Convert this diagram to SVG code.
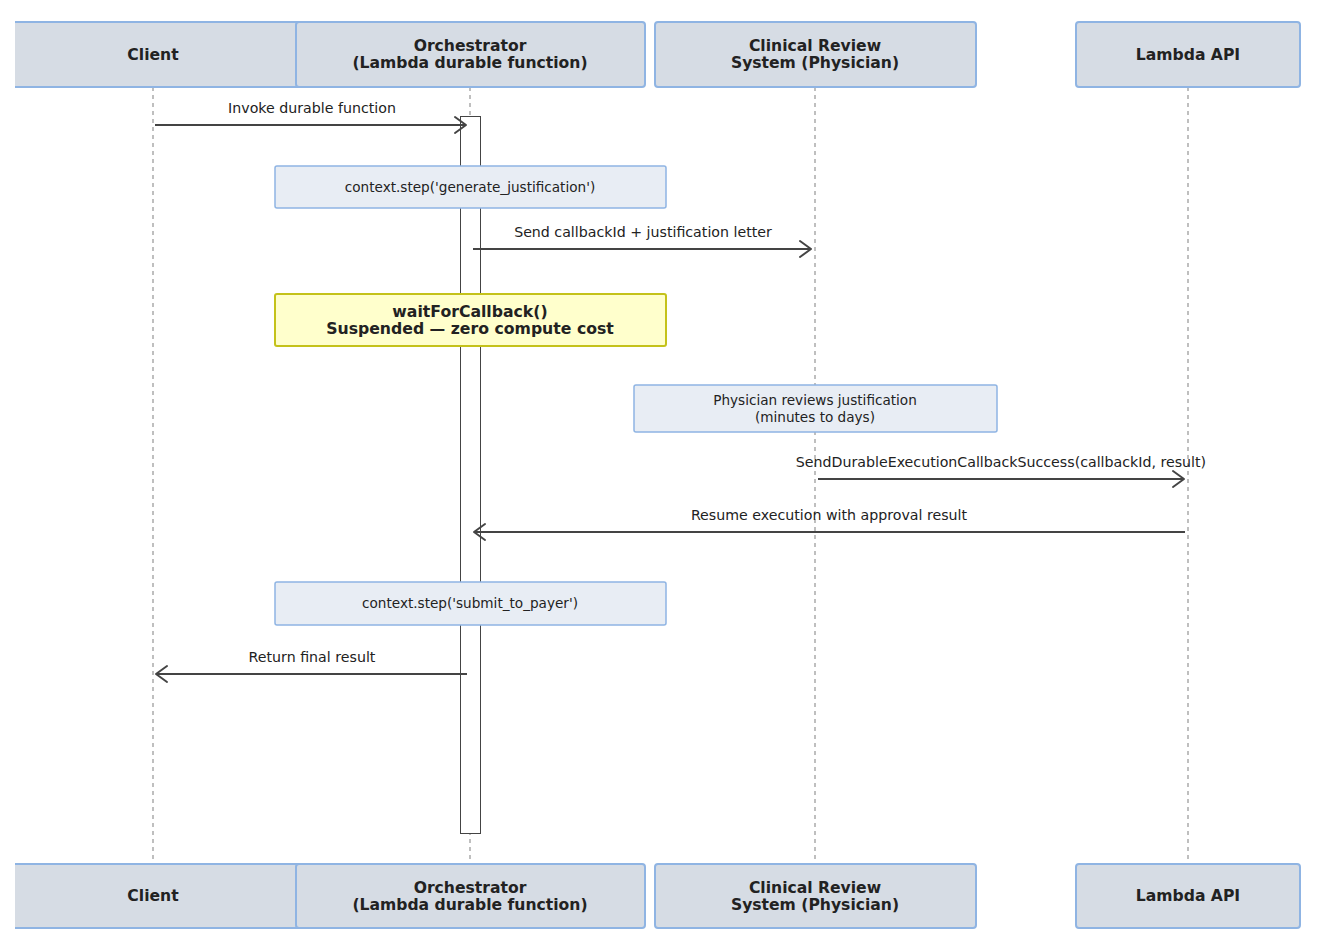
<svg xmlns="http://www.w3.org/2000/svg" width="1323" height="950" viewBox="0 0 1323 950">
<style>
text{font-family:"DejaVu Sans","Liberation Sans",sans-serif;fill:#222;text-anchor:middle}
.actor{fill:#d6dce4;stroke:#8fb4e3;stroke-width:2}
.atext{font-size:15.6px;font-weight:bold}
.life{stroke:#aaa;stroke-width:1.5;stroke-dasharray:4,4;fill:none}
.act{fill:#fff;stroke:#444;stroke-width:1}
.note{fill:#e8edf4;stroke:#8fb4e3;stroke-width:1.5}
.ynote{fill:#ffffcc;stroke:#c4c21a;stroke-width:2}
.ntext{font-size:13.6px}
.ytext{font-size:15.7px;font-weight:bold}
.msg{stroke:#444;stroke-width:2;fill:none}
.head{stroke:#444;stroke-width:2;fill:none;stroke-linecap:round;stroke-linejoin:round}
.mtext{font-size:14.2px}
</style>
<defs>
<clipPath id="clip"><rect x="15" y="0" width="1308" height="950"/></clipPath>
</defs>
<rect width="1323" height="950" fill="#fff"/>
<g id="lifelines">
<line class="life" x1="153" y1="87" x2="153" y2="864"/>
<line class="life" x1="470" y1="87" x2="470" y2="864"/>
<line class="life" x1="815" y1="87" x2="815" y2="864"/>
<line class="life" x1="1188" y1="87" x2="1188" y2="864"/>
</g>
<g id="activation"><rect class="act" x="460.5" y="116.5" width="20" height="717"/></g>
<g id="actor-client-top" clip-path="url(#clip)">
<rect class="actor" x="3" y="22" width="299" height="65" rx="3"/>
<text class="atext" x="153" y="60">Client</text>
</g>
<g id="actor-orch-top">
<rect class="actor" x="296" y="22" width="349" height="65" rx="3"/>
<text class="atext" x="470" y="51">Orchestrator</text>
<text class="atext" x="470" y="68">(Lambda durable function)</text>
</g>
<g id="actor-crs-top">
<rect class="actor" x="655" y="22" width="321" height="65" rx="3"/>
<text class="atext" x="815" y="51">Clinical Review</text>
<text class="atext" x="815" y="68">System (Physician)</text>
</g>
<g id="actor-api-top">
<rect class="actor" x="1076" y="22" width="224" height="65" rx="3"/>
<text class="atext" x="1188" y="60">Lambda API</text>
</g>
<g id="actor-client-bottom" clip-path="url(#clip)">
<rect class="actor" x="3" y="864" width="299" height="64" rx="3"/>
<text class="atext" x="153" y="901">Client</text>
</g>
<g id="actor-orch-bottom">
<rect class="actor" x="296" y="864" width="349" height="64" rx="3"/>
<text class="atext" x="470" y="893">Orchestrator</text>
<text class="atext" x="470" y="910">(Lambda durable function)</text>
</g>
<g id="actor-crs-bottom">
<rect class="actor" x="655" y="864" width="321" height="64" rx="3"/>
<text class="atext" x="815" y="893">Clinical Review</text>
<text class="atext" x="815" y="910">System (Physician)</text>
</g>
<g id="actor-api-bottom">
<rect class="actor" x="1076" y="864" width="224" height="64" rx="3"/>
<text class="atext" x="1188" y="901">Lambda API</text>
</g>
<g id="note-generate">
<rect class="note" x="275" y="166" width="391" height="42" rx="2"/>
<text class="ntext" x="470" y="192">context.step('generate_justification')</text>
</g>
<g id="note-wait">
<rect class="ynote" x="275" y="294" width="391" height="52" rx="2"/>
<text class="ytext" x="470" y="317">waitForCallback()</text>
<text class="ytext" x="470" y="334">Suspended — zero compute cost</text>
</g>
<g id="note-physician">
<rect class="note" x="634" y="385" width="363" height="47" rx="2"/>
<text class="ntext" x="815" y="405">Physician reviews justification</text>
<text class="ntext" x="815" y="422">(minutes to days)</text>
</g>
<g id="note-submit">
<rect class="note" x="275" y="582" width="391" height="43" rx="2"/>
<text class="ntext" x="470" y="608">context.step('submit_to_payer')</text>
</g>
<g id="connectors">
<line class="msg" x1="155" y1="125" x2="466" y2="125"/>
<path class="head" d="M455,117 L466,125 L455,133"/>
<text class="mtext" x="312" y="113">Invoke durable function</text>
<line class="msg" x1="473" y1="249" x2="811" y2="249"/>
<path class="head" d="M800,241 L811,249 L800,257"/>
<text class="mtext" x="643" y="237">Send callbackId + justification letter</text>
<line class="msg" x1="818" y1="479" x2="1184" y2="479"/>
<path class="head" d="M1173,471 L1184,479 L1173,487"/>
<text class="mtext" x="1001" y="467">SendDurableExecutionCallbackSuccess(callbackId, result)</text>
<line class="msg" x1="1185" y1="532" x2="474" y2="532"/>
<path class="head" d="M485,524 L474,532 L485,540"/>
<text class="mtext" x="829" y="520">Resume execution with approval result</text>
<line class="msg" x1="467" y1="674" x2="156" y2="674"/>
<path class="head" d="M167,666 L156,674 L167,682"/>
<text class="mtext" x="312" y="662">Return final result</text>
</g>
</svg>
